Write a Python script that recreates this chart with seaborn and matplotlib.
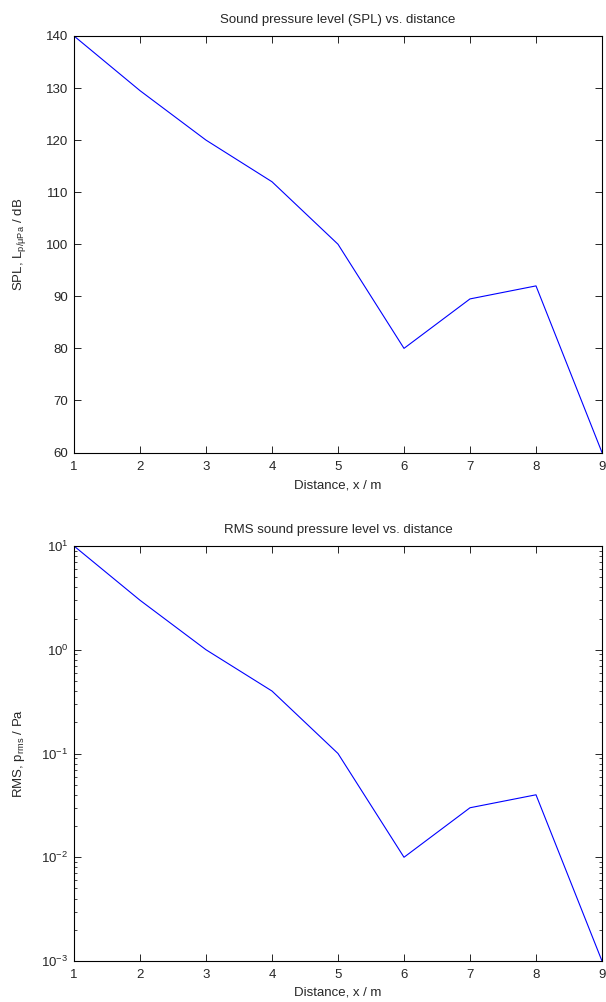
import matplotlib
matplotlib.use("Agg")
import matplotlib.pyplot as plt
import seaborn as sns
import pandas as pd
from matplotlib.ticker import LogLocator

# data
distance = [1, 2, 3, 4, 5, 6, 7, 8, 9]
spl_db = [140, 129.5, 120, 112, 100, 80, 89.5, 92, 60]
p_rms = [10, 3, 1, 0.4, 0.1, 0.01, 0.03, 0.04, 0.001]

df = pd.DataFrame({"x": distance, "spl": spl_db, "prms": p_rms})

sns.set_style("ticks")
plt.rcParams["font.family"] = ["Liberation Sans", "DejaVu Sans"]
plt.rcParams["mathtext.fontset"] = "custom"
plt.rcParams["mathtext.rm"] = "Liberation Sans"
plt.rcParams["mathtext.it"] = "Liberation Sans"
plt.rcParams["xtick.direction"] = "in"
plt.rcParams["ytick.direction"] = "in"
plt.rcParams["axes.linewidth"] = 0.8

fig = plt.figure(figsize=(6.06, 10.02), dpi=100)
ax1 = fig.add_axes([0.1221, 0.5484, 0.8713, 0.4157])
ax2 = fig.add_axes([0.1221, 0.0409, 0.8713, 0.4142])

fs = 9.5

# ---- top: SPL ----
sns.lineplot(data=df, x="x", y="spl", ax=ax1, color="blue", linewidth=0.8)
ax1.set_xlim(1, 9)
ax1.set_ylim(60, 140)
ax1.set_xticks(range(1, 10))
ax1.set_yticks(range(60, 141, 10))
ax1.set_title("Sound pressure level (SPL) vs. distance", fontsize=fs, pad=9)
ax1.set_xlabel("Distance, x / m", fontsize=fs, labelpad=5)
ax1.set_ylabel(r"SPL, L$_{\mathrm{p/\mu Pa}}$ / dB", fontsize=fs, labelpad=13)

# ---- bottom: RMS, log scale ----
sns.lineplot(data=df, x="x", y="prms", ax=ax2, color="blue", linewidth=0.8)
ax2.set_yscale("log")
ax2.set_xlim(1, 9)
ax2.set_ylim(1e-3, 1e1)
ax2.set_xticks(range(1, 10))
ax2.yaxis.set_major_locator(LogLocator(base=10, numticks=10))
ax2.yaxis.set_minor_locator(LogLocator(base=10, subs=range(2, 10), numticks=20))
ax2.set_title("RMS sound pressure level vs. distance", fontsize=fs, pad=9)
ax2.set_xlabel("Distance, x / m", fontsize=fs, labelpad=4)
ax2.set_ylabel(r"RMS, p$_{\mathrm{rms}}$ / Pa", fontsize=fs, labelpad=10)

for ax in (ax1, ax2):
    for s in ax.spines.values():
        s.set_visible(True)
        s.set_color("black")
    ax.tick_params(which="both", top=True, right=True, labelsize=fs)
    ax.tick_params(axis="x", which="both", pad=6)
    ax.tick_params(axis="y", which="both", pad=4)
    ax.tick_params(which="major", length=5, width=0.7)
    ax.tick_params(which="minor", length=2.5, width=0.6)

fig.savefig("out.png", dpi=100)
